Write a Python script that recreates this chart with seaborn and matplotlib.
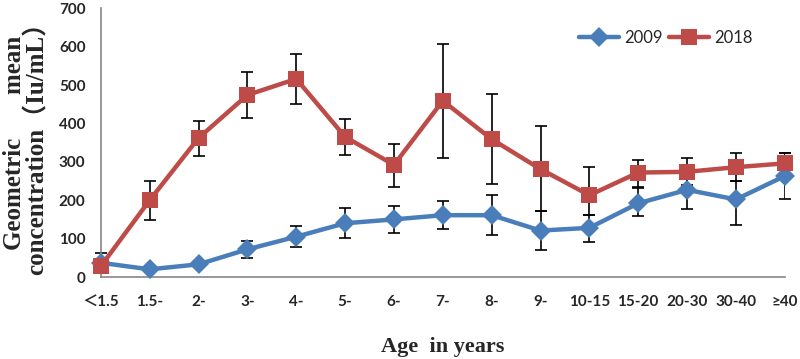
import numpy as np
import pandas as pd
import seaborn as sns
import matplotlib.pyplot as plt

# datos
edades = ["＜1.5", "1.5-", "2-", "3-", "4-", "5-", "6-", "7-", "8-", "9-",
          "10-15", "15-20", "20-30", "30-40", "≥40"]
gmc_2009 = [37, 20, 33, 72, 105, 140, 150, 161, 161, 121, 128, 192, 227, 202, 263]
sup_2009 = [62, 26, 41, 95, 133, 179, 184, 197, 213, 173, 161, 233, 280, 251, 322]
inf_2009 = [12, 14, 25, 50, 77, 101, 115, 124, 109, 70, 92, 159, 176, 135, 202]
gmc_2018 = [28, 200, 362, 474, 516, 365, 292, 459, 359, 281, 213, 272, 274, 286, 296]
sup_2018 = [38, 250, 407, 533, 580, 411, 346, 606, 476, 393, 287, 305, 309, 324, 322]
inf_2018 = [18, 148, 315, 413, 450, 319, 235, 311, 241, 173, 161, 235, 240, 251, 270]
anios = ["2009", "2018"]

x = np.arange(len(edades))
df = pd.DataFrame({
    "pos": np.concatenate([x, x]),
    "gmc": gmc_2009 + gmc_2018,
    "anio": [anios[0]] * len(x) + [anios[1]] * len(x),
})

sns.set_style("white")
plt.rcParams["font.family"] = ["Lato", "Noto Sans CJK SC", "DejaVu Sans"]

colores = {"2009": "#4A7EBB", "2018": "#BE4B48"}
serif = ["Liberation Serif", "Noto Sans CJK SC"]

fig = plt.figure(figsize=(8, 3.59), dpi=100)
ax = fig.add_axes([0.126, 0.2284, 0.855, 0.7486])

# barras de error
for m, s, i in [(gmc_2009, sup_2009, inf_2009), (gmc_2018, sup_2018, inf_2018)]:
    m = np.array(m)
    ax.errorbar(x, m, yerr=[m - np.array(i), np.array(s) - m], fmt="none",
                ecolor="black", elinewidth=1.2, capsize=4, capthick=1.2, zorder=1)

sns.lineplot(data=df, x="pos", y="gmc", hue="anio", style="anio",
             markers={"2009": "D", "2018": "s"}, dashes=False, palette=colores,
             linewidth=3.2, markeredgewidth=0, sort=False, ax=ax, zorder=3)
for ln in ax.lines:
    ln.set_clip_on(False)
    if ln.get_marker() == "D":
        ln.set_markersize(10)
    elif ln.get_marker() == "s":
        ln.set_markersize(12)

ax.set_xlim(0, len(edades) - 1)
ax.set_ylim(0, 700)
ax.set_yticks(range(0, 701, 100))
ax.set_xticks(x)
ax.set_xticklabels(edades)
sns.despine(ax=ax)
for sp in ["left", "bottom"]:
    ax.spines[sp].set_color("#868686")
    ax.spines[sp].set_linewidth(1.2)
ax.tick_params(axis="both", direction="out", length=5, width=1, color="#868686",
               labelsize=11, pad=6)
ax.tick_params(axis="x", pad=8)
for t in ax.get_xticklabels() + ax.get_yticklabels():
    t.set_fontweight("bold")

ax.set_xlabel("Age  in years", fontsize=16, fontweight="bold",
              family=serif, labelpad=20)
ax.set_ylabel("Geometric       mean\nconcentration（Iu/mL）", fontsize=18,
              fontweight="bold", family=serif, labelpad=7, linespacing=0.95)

ax.legend(title=None, frameon=False, ncol=2, loc="center right",
          bbox_to_anchor=(0.975, 0.889), fontsize=12, handlelength=2.4,
          handletextpad=0.3, columnspacing=0.4)
for h in ax.get_legend().legend_handles:
    h.set_linewidth(3.2)

plt.savefig("out.png", dpi=100)
